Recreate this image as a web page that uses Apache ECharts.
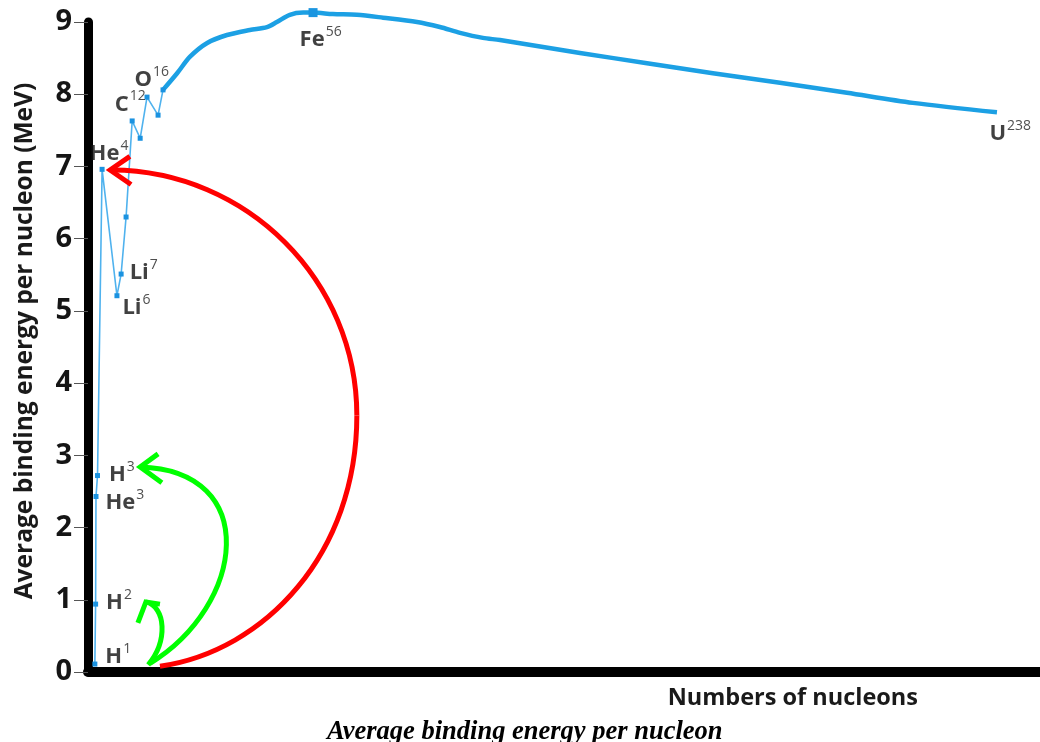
<!DOCTYPE html>
<html>
<head>
<meta charset="utf-8">
<script src="https://cdn.jsdelivr.net/npm/echarts@6/dist/echarts.min.js"></script>
<style>
html,body{margin:0;padding:0;background:#fff;}
#chart{width:1040px;height:742px;}
</style>
</head>
<body>
<div id="chart"></div>
<script>
// ---- Data (x: schematic nucleon position, y: MeV) ----
// Light nuclei (thin line with square markers): H1, H2, He3, H3, He4, Li6, Li7, Be9, C12, N14, O16, F19, Ne20
const lightX = [1.8, 2.0, 2.1, 2.5, 3.7, 7.6, 8.7, 10.0, 11.6, 13.7, 15.5, 18.4, 19.7];
const lightY = [0.11, 0.94, 2.43, 2.72, 6.96, 5.21, 5.51, 6.30, 7.63, 7.39, 7.96, 7.71, 8.06];
// Heavier nuclei (thick curve) from Ne20 to U238
const heavyX = [19.7, 23.4, 26.8, 31.3, 36.5, 42.5, 47.0, 49.6, 53.0, 56.5, 59.1, 64.3, 70.6, 77.5, 86.4, 92.4, 97.7, 103.7, 108.2, 129.2, 146.8, 164.1, 181.7, 199.3, 216.6, 238.7];
const heavyY = [8.06, 8.29, 8.52, 8.71, 8.82, 8.89, 8.93, 9.00, 9.10, 9.13, 9.13, 9.11, 9.10, 9.06, 9.00, 8.93, 8.85, 8.78, 8.75, 8.57, 8.43, 8.29, 8.16, 8.02, 7.88, 7.75];
const feIndex = 10;

// Nuclide labels: element, mass number, which series and point index they belong to
const labelElement = ['H', 'H', 'He', 'H', 'He', 'Li', 'Li', 'C', 'O', 'Fe', 'U'];
const labelMass = ['1', '2', '3', '3', '4', '6', '7', '12', '16', '56', '238'];
const labelSeries = ['light', 'light', 'light', 'light', 'light', 'light', 'light', 'light', 'light', 'heavy', 'heavy'];
const labelIndex = [0, 1, 2, 3, 4, 5, 6, 8, 10, 10, 25];

// Fusion arrows: cubic Bezier segments in data coordinates [x0, y0, cx1, cy1, cx2, cy2, x1, y1]
const redArc1 = [18.9, 0.08, 46.5, 0.29, 70.6, 1.64, 70.6, 3.55];
const redArc2 = [70.6, 3.55, 70.6, 5.42, 41.8, 6.94, 6.3, 6.95];
const greenBigArc = [16.3, 0.12, 41.2, 0.92, 45.7, 2.79, 13.7, 2.84];
const greenSmallArc = [15.8, 0.10, 21.0, 0.43, 20.5, 0.90, 15.2, 0.97];
// Arrow heads (arm, tip, arm)
const redHeadX = [11.0, 5.8, 11.3];
const redHeadY = [7.14, 6.95, 6.75];
const greenBigHeadX = [18.4, 13.7, 19.4];
const greenBigHeadY = [3.02, 2.84, 2.62];
const greenSmallHeadX = [13.1, 15.2, 18.9];
const greenSmallHeadY = [0.68, 0.97, 0.94];

const yTicks = [0, 1, 2, 3, 4, 5, 6, 7, 8, 9];

// ---- Build ----
const zip = (xs, ys) => xs.map((x, i) => [x, ys[i]]);
const light = zip(lightX, lightY);
const heavy = zip(heavyX, heavyY);

const RED = '#ff0000';
const GREEN = '#00ff00';

// label placement (pixel offsets from the anchor point): [dx, dy]
const labelOffsets = [
  [11, -9], [11, -3], [10, 5], [12, -2], [-12, -17], [6, 11], [9, -3],
  [-17, -18], [-12, -19], [-13, 26], [-7, 20]
];

const labelData = labelElement.map((el, i) => {
  const src = labelSeries[i] === 'light' ? light : heavy;
  const p = src[labelIndex[i]];
  return {
    value: p,
    label: {
      show: true,
      position: [labelOffsets[i][0], labelOffsets[i][1]],
      align: 'left',
      verticalAlign: 'middle',
      formatter: '{el|' + el + '}{sup|' + labelMass[i] + '}'
    }
  };
});

const arcData = [
  {value: redArc1, color: RED},
  {value: redArc2, color: RED},
  {value: greenBigArc, color: GREEN},
  {value: greenSmallArc, color: GREEN}
];

const chart = echarts.init(document.getElementById('chart'), null, {renderer: 'canvas'});

const arrowHead = (name, data, color) => ({
  name: name,
  type: 'line',
  data: data,
  symbol: 'none',
  silent: true,
  clip: false,
  z: 5,
  lineStyle: {color: color, width: 5, cap: 'butt', join: 'miter'}
});

chart.setOption({
  animation: false,
  backgroundColor: '#ffffff',
  title: {
    text: 'Average binding energy per nucleon',
    left: 327,
    top: 719,
    padding: 0,
    textStyle: {
      fontFamily: 'Liberation Serif',
      fontStyle: 'italic',
      fontWeight: 'bold',
      fontSize: 26.5,
      color: '#000'
    }
  },
  grid: {left: 88, right: 0, top: 22, bottom: 70, containLabel: false},
  xAxis: {
    type: 'value',
    min: 0,
    max: 250,
    name: 'Numbers of nucleons',
    nameLocation: 'end',
    nameGap: -122,
    nameTextStyle: {
      fontFamily: 'Open Sans',
      fontWeight: 'bold',
      fontSize: 23.5,
      color: '#1a1a1a',
      align: 'right',
      verticalAlign: 'top',
      padding: [14, 0, 0, 0]
    },
    axisLine: {show: true, onZero: false, lineStyle: {color: '#000', width: 10}},
    axisTick: {show: false},
    axisLabel: {show: false},
    splitLine: {show: false}
  },
  yAxis: {
    type: 'value',
    min: 0,
    max: 9,
    interval: 1,
    name: 'Average binding energy per nucleon (MeV)',
    nameLocation: 'middle',
    nameGap: 50,
    nameTextStyle: {
      fontFamily: 'Open Sans',
      fontWeight: 'bold',
      fontSize: 24.5,
      color: '#1a1a1a',
      padding: [0, 0, 0, 12]
    },
    axisLine: {show: true, lineStyle: {color: '#000', width: 9}},
    axisTick: {show: true, length: 14, lineStyle: {color: '#555', width: 1}},
    axisLabel: {
      margin: 16,
      fontFamily: 'Open Sans',
      fontWeight: 'bold',
      fontSize: 29,
      color: '#151515',
      formatter: v => yTicks.indexOf(v) >= 0 ? String(v) : ''
    },
    splitLine: {show: false}
  },
  series: [
    {
      name: 'light nuclei',
      type: 'line',
      data: light,
      symbol: 'rect',
      symbolSize: 5,
      showAllSymbol: true,
      clip: false,
      z: 3,
      lineStyle: {color: '#4fb2ee', width: 1.6},
      itemStyle: {color: '#1a92e0'}
    },
    {
      name: 'heavy nuclei',
      type: 'line',
      data: heavy.map((p, i) => i === feIndex ? {value: p, symbol: 'rect', symbolSize: 9} : {value: p, symbol: 'none'}),
      smooth: 0.3,
      clip: false,
      z: 3,
      lineStyle: {color: '#1ca0e4', width: 4.5, join: 'round'},
      itemStyle: {color: '#1a95e0'}
    },
    {
      name: 'fusion arcs',
      type: 'custom',
      data: arcData,
      encode: {x: [0, 2, 4, 6], y: [1, 3, 5, 7]},
      clip: false,
      silent: true,
      z: 5,
      renderItem: (params, api) => {
        const p0 = api.coord([api.value(0), api.value(1)]);
        const c1 = api.coord([api.value(2), api.value(3)]);
        const c2 = api.coord([api.value(4), api.value(5)]);
        const p1 = api.coord([api.value(6), api.value(7)]);
        return {
          type: 'bezierCurve',
          shape: {x1: p0[0], y1: p0[1], cpx1: c1[0], cpy1: c1[1], cpx2: c2[0], cpy2: c2[1], x2: p1[0], y2: p1[1]},
          style: {stroke: arcData[params.dataIndex].color, lineWidth: 5, fill: null}
        };
      }
    },
    arrowHead('red head', zip(redHeadX, redHeadY), RED),
    arrowHead('green big head', zip(greenBigHeadX, greenBigHeadY), GREEN),
    arrowHead('green small head', zip(greenSmallHeadX, greenSmallHeadY), GREEN),
    {
      name: 'labels',
      type: 'scatter',
      data: labelData,
      symbol: 'circle',
      symbolSize: 1,
      clip: false,
      itemStyle: {color: 'rgba(0,0,0,0)'},
      silent: true,
      z: 10,
      label: {
        show: true,
        rich: {
          el: {fontFamily: 'Open Sans', fontWeight: 'bold', fontSize: 22, color: '#111', lineHeight: 26, verticalAlign: 'bottom'},
          sup: {fontFamily: 'Open Sans', fontSize: 14, color: '#222', lineHeight: 26, verticalAlign: 'top', padding: [0, 0, 0, 1]}
        }
      },
      labelLayout: {hideOverlap: false}
    }
  ]
});
</script>
</body>
</html>
